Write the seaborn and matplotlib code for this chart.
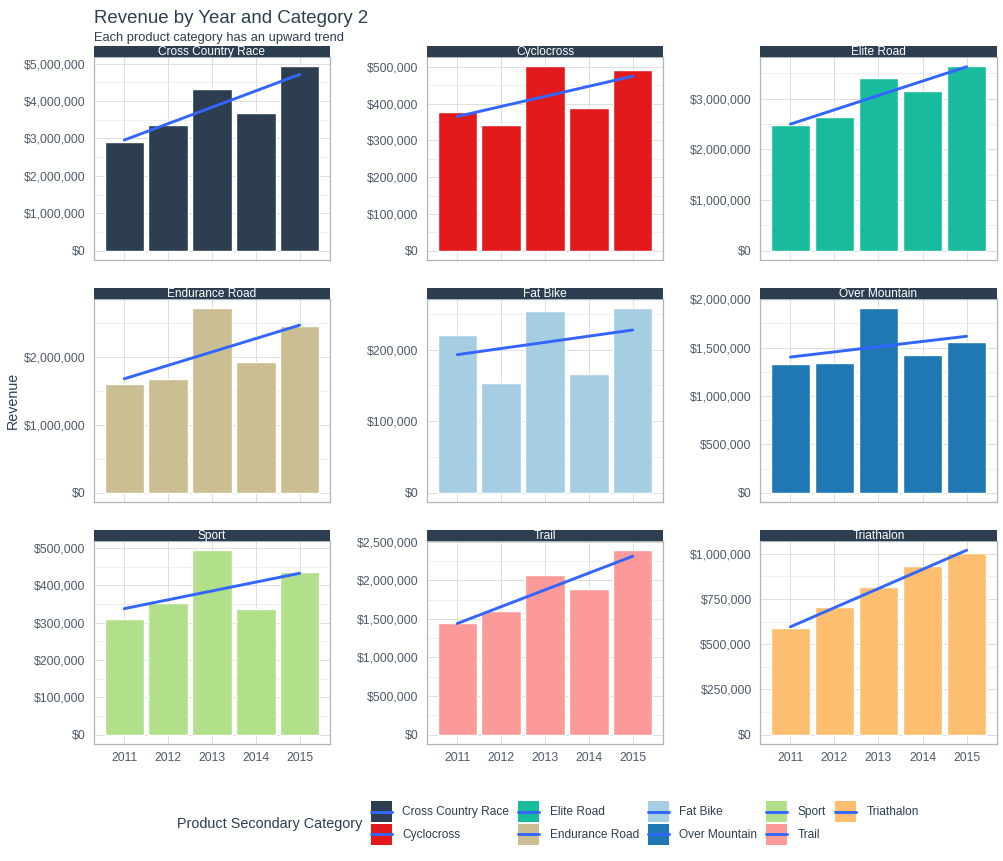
import numpy as np
import pandas as pd
import matplotlib
matplotlib.use("Agg")
import matplotlib.pyplot as plt
from matplotlib.patches import Patch, Rectangle
from matplotlib.lines import Line2D
from matplotlib.legend_handler import HandlerBase
from matplotlib.ticker import MultipleLocator, FuncFormatter
import seaborn as sns

# ---------------- data ----------------
years = [2011, 2012, 2013, 2014, 2015]
categories = ["Cross Country Race", "Cyclocross", "Elite Road", "Endurance Road",
              "Fat Bike", "Over Mountain", "Sport", "Trail", "Triathalon"]
rev_cross_country = [2900000, 3350000, 4320000, 3670000, 4930000]
rev_cyclocross = [377000, 342000, 502000, 388000, 491000]
rev_elite_road = [2490000, 2630000, 3400000, 3160000, 3640000]
rev_endurance_road = [1590000, 1670000, 2710000, 1920000, 2450000]
rev_fat_bike = [221000, 153000, 253500, 165500, 257800]
rev_over_mountain = [1328000, 1338000, 1907000, 1421000, 1555000]
rev_sport = [309000, 352000, 494500, 336000, 435500]
rev_trail = [1442000, 1598000, 2064000, 1883000, 2388000]
rev_triathalon = [587000, 703000, 814000, 930000, 1002000]
tick_steps = [1000000, 100000, 1000000, 1000000, 100000, 500000, 100000, 500000, 250000]
colors = ["#2C3E50", "#E31A1C", "#18BC9C", "#CCBE93", "#A6CEE3",
          "#1F78B4", "#B2DF8A", "#FB9A99", "#FDBF6F"]

series = [rev_cross_country, rev_cyclocross, rev_elite_road, rev_endurance_road,
          rev_fat_bike, rev_over_mountain, rev_sport, rev_trail, rev_triathalon]
df = pd.DataFrame({
    "year": np.tile(years, len(categories)),
    "category": np.repeat(categories, len(years)),
    "revenue": np.concatenate(series),
})

# ---------------- style ----------------
sns.set_theme(style="white")
plt.rcParams['font.family'] = ['Liberation Sans', 'DejaVu Sans']

W, H = 1004, 861
fig = plt.figure(figsize=(W / 100, H / 100), dpi=100)

TXT = "#2C3E50"
TICK_TXT = "#4D5A68"
col_x = [(94, 330), (427, 663), (760, 997)]
row_y = [(57, 260), (299, 502), (541, 744)]
strip_h = 11
smooth_col = "#3366FF"
LW = 2.1

money = FuncFormatter(lambda v, p: f"${v:,.0f}")

for i, cat in enumerate(categories):
    r, c = divmod(i, 3)
    x0, x1 = col_x[c]
    y0, y1 = row_y[r]
    ax = fig.add_axes([x0 / W, 1 - y1 / H, (x1 - x0) / W, (y1 - y0) / H])
    sub = df[df["category"] == cat]
    sns.barplot(data=sub, x="year", y="revenue", native_scale=True, color=colors[i],
                saturation=1, width=0.9, errorbar=None, ax=ax, zorder=2)
    sns.regplot(data=sub, x="year", y="revenue", scatter=False, ci=None, ax=ax,
                color=smooth_col, line_kws={"lw": LW, "zorder": 3}, truncate=True)
    ax.use_sticky_edges = False
    ax.margins(y=0.05)
    ax.relim()
    ax.autoscale_view()
    ax.set_xlim(years[0] - 0.69, years[-1] + 0.69)
    ax.set_xticks(years)
    ax.yaxis.set_major_locator(MultipleLocator(tick_steps[i]))
    ax.yaxis.set_minor_locator(MultipleLocator(tick_steps[i] / 2))
    ax.yaxis.set_major_formatter(money)
    ax.set_xlabel("")
    ax.set_ylabel("")
    ax.grid(True, which="major", color="#DDDDDD", lw=0.7, zorder=0)
    ax.grid(True, which="minor", axis="y", color="#EBEBEB", lw=0.6, zorder=0)
    ax.set_axisbelow(True)
    for s in ax.spines.values():
        s.set_color("#AEB5BD")
        s.set_linewidth(0.9)
    ax.tick_params(axis="both", which="major", length=3.5, width=0.6, color="#B8BEC5",
                   labelsize=8.8, labelcolor=TICK_TXT, pad=2.5)
    ax.tick_params(axis="y", which="minor", length=0)
    if r < 2:
        ax.set_xticklabels([])
    else:
        ax.set_xticklabels([str(y) for y in years])
    # strip
    hfrac = strip_h / (y1 - y0)
    ax.add_patch(Rectangle((0, 1), 1, hfrac, transform=ax.transAxes, clip_on=False,
                           facecolor="#2C3E50", edgecolor="none", zorder=5))
    ax.text(0.5, 1 + hfrac / 2 - 0.003, cat, transform=ax.transAxes, ha="center",
            va="center", color="white", fontsize=8.6, zorder=6)

# titles
fig.text(94 / W, 1 - 10 / H, "Revenue by Year and Category 2", ha="left", va="top",
         fontsize=13.4, color=TXT)
fig.text(94 / W, 1 - 32 / H, "Each product category has an upward trend", ha="left",
         va="top", fontsize=9.3, color=TXT)
fig.text(12.5 / W, 1 - 400 / H, "Revenue", rotation=90, ha="center", va="center",
         fontsize=10.3, color=TXT)


# legend: square key with the fitted line drawn across its middle
class KeyHandler(HandlerBase):
    def create_artists(self, legend, orig_handle, xdescent, ydescent, width, height,
                       fontsize, trans):
        rect = Rectangle((-xdescent, -ydescent), width, height,
                         facecolor=orig_handle.get_facecolor(), edgecolor="none",
                         transform=trans)
        yc = -ydescent + height / 2
        line = Line2D([-xdescent, -xdescent + width], [yc, yc], color=smooth_col,
                      lw=LW, transform=trans)
        return [rect, line]


handles = [Patch(facecolor=col, edgecolor="none") for col in colors]
leg = fig.legend(handles, categories, loc="center left",
                 bbox_to_anchor=(371 / W, 1 - 823 / H), ncol=5, frameon=False,
                 fontsize=8.6, handlelength=1.756, handleheight=2.32,
                 handletextpad=0.87, columnspacing=0.75, labelspacing=0.17,
                 borderpad=0, borderaxespad=0,
                 handler_map={Patch: KeyHandler()})
for t in leg.get_texts():
    t.set_color(TXT)
fig.text(177 / W, 1 - 824 / H, "Product Secondary Category", ha="left", va="center",
         fontsize=10.4, color=TXT)

fig.savefig("out.png", dpi=100)
